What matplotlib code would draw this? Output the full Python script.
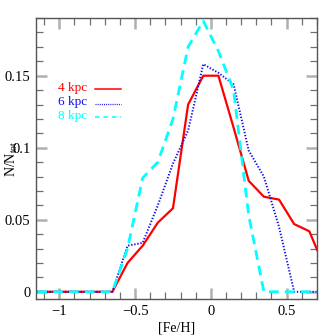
import numpy as np
import matplotlib
matplotlib.use("Agg")
from matplotlib import pyplot as plt
from matplotlib.ticker import MultipleLocator, FuncFormatter

# metallicity bins (bin centres, 0.1 dex)
feh = [-1.25, -1.15, -1.05, -0.95, -0.85, -0.75, -0.65, -0.55, -0.45, -0.35, -0.25,
       -0.15, -0.05, 0.05, 0.15, 0.25, 0.35, 0.45, 0.55, 0.65, 0.75]
n4 = [0, 0, 0, 0, 0, 0, 0, 0.020, 0.032, 0.048, 0.058,
      0.130, 0.150, 0.150, 0.114, 0.077, 0.066, 0.064, 0.047, 0.042, 0.017]
n6 = [0, 0, 0, 0, 0, 0, 0, 0.032, 0.034, 0.060, 0.089,
      0.112, 0.158, 0.152, 0.144, 0.098, 0.080, 0.045, 0.0, 0.0, 0.0]
n8 = [0, 0, 0, 0, 0, 0, 0, 0.030, 0.079, 0.090, 0.120,
      0.170, 0.188, 0.167, 0.140, 0.053, 0.0, 0.0, 0.0, 0.0, 0.0]
labels = ["4 kpc", "6 kpc", "8 kpc"]

plt.rcParams['font.family'] = ['Liberation Serif', 'DejaVu Serif']
plt.rcParams['mathtext.fontset'] = 'custom'
plt.rcParams['mathtext.rm'] = 'Liberation Serif'
plt.rcParams['mathtext.it'] = 'Liberation Serif'

fig = plt.figure(figsize=(3.35, 3.35), dpi=100)
ax = fig.add_axes([0.1075, 0.1075, 0.8385, 0.8385])

ax.plot(feh, n4, color='red', lw=1.6, ls='-')
ax.plot(feh, n6, color='#1010ee', lw=1.4, ls=(0, (0.7, 0.9)))
ax.plot(feh, n8, color='cyan', lw=2.0, ls=(0, (3.5, 2.2)))

ax.set_xlim(-1.154, 0.70)
ax.set_ylim(-0.005, 0.19)

ax.xaxis.set_major_locator(MultipleLocator(0.5))
ax.xaxis.set_minor_locator(MultipleLocator(0.1))
ax.yaxis.set_major_locator(MultipleLocator(0.05))
ax.yaxis.set_minor_locator(MultipleLocator(0.01))


def fmt(v, pos):
    if abs(v) < 1e-9:
        return "0"
    s = ("%.2f" % v).rstrip('0').rstrip('.')
    return s.replace('-', '\u2212')


ax.xaxis.set_major_formatter(FuncFormatter(fmt))
ax.yaxis.set_major_formatter(FuncFormatter(fmt))
ax.tick_params(which='both', direction='in', top=True, right=True, labelsize=10.5)
ax.tick_params(which='major', length=8, width=1.8, color='#b0b0b0', pad=4)
ax.tick_params(which='minor', length=5, width=0.9, color='#707070')
for sp in ax.spines.values():
    sp.set_color('#555555')
    sp.set_linewidth(1.0)

ax.set_xlabel("[Fe/H]", fontsize=10, labelpad=3)
ax.set_ylabel("N/N$_{\\rm tot}$", fontsize=10, labelpad=-11)

# legend by hand
ax.text(-1.008, 0.1417, labels[0], color='red', fontsize=9.5, va='center')
ax.text(-1.008, 0.1319, labels[1], color='#1010ee', fontsize=9.5, va='center')
ax.text(-1.008, 0.1222, labels[2], color='cyan', fontsize=9.5, va='center')
ax.plot([-0.765, -0.595], [0.1405, 0.1405], color='red', lw=1.1)
ax.plot([-0.765, -0.595], [0.1307, 0.1307], color='#1010ee', lw=0.9, ls=(0, (0.8, 0.9)))
ax.plot([-0.765, -0.595], [0.1210, 0.1210], color='cyan', lw=1.1, ls=(0, (3, 2.5)))

fig.savefig("out.png", dpi=100)
